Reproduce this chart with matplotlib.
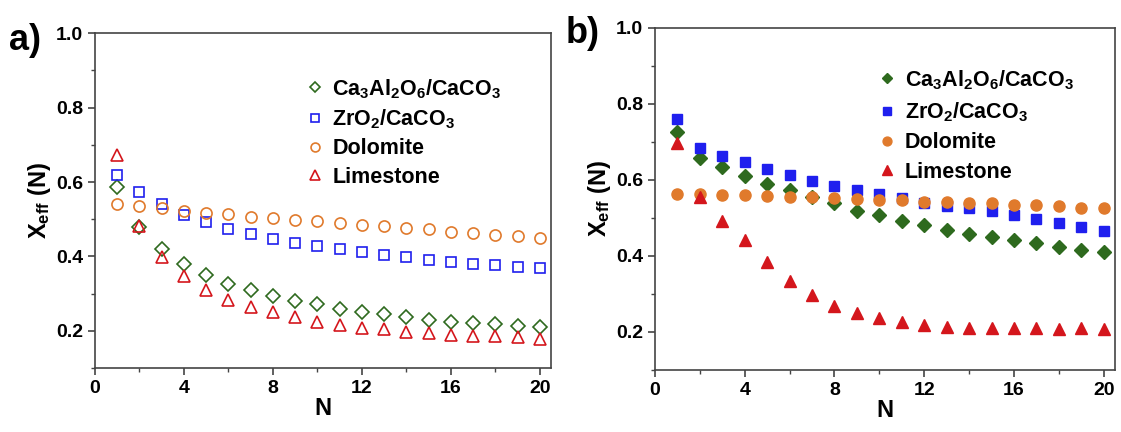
import numpy as np
import matplotlib
matplotlib.use('Agg')
import matplotlib.pyplot as plt
from matplotlib.ticker import MultipleLocator

plt.rcParams['font.family'] = ['Liberation Sans', 'DejaVu Sans']
plt.rcParams['font.weight'] = 'bold'
plt.rcParams['mathtext.fontset'] = 'custom'
plt.rcParams['mathtext.rm'] = 'Liberation Sans:bold'
plt.rcParams['mathtext.it'] = 'Liberation Sans:bold'
plt.rcParams['mathtext.bf'] = 'Liberation Sans:bold'

# cycle numbers
cycles = list(range(1, 21))

labels = [r'Ca$_3$Al$_2$O$_6$/CaCO$_3$', r'ZrO$_2$/CaCO$_3$', 'Dolomite', 'Limestone']

# panel a) values
a_ca3al2o6 = [0.587, 0.480, 0.420, 0.380, 0.349, 0.326, 0.309, 0.293, 0.280, 0.271,
              0.258, 0.252, 0.244, 0.236, 0.229, 0.224, 0.220, 0.218, 0.213, 0.210]
a_zro2 = [0.620, 0.573, 0.540, 0.511, 0.492, 0.474, 0.460, 0.447, 0.436, 0.427,
          0.420, 0.411, 0.404, 0.398, 0.391, 0.385, 0.380, 0.378, 0.373, 0.369]
a_dolomite = [0.540, 0.535, 0.529, 0.523, 0.518, 0.513, 0.507, 0.504, 0.499, 0.495,
              0.491, 0.485, 0.482, 0.476, 0.473, 0.467, 0.462, 0.458, 0.455, 0.449]
a_limestone = [0.672, 0.482, 0.398, 0.347, 0.311, 0.283, 0.265, 0.251, 0.236, 0.225,
               0.216, 0.207, 0.204, 0.198, 0.195, 0.190, 0.187, 0.185, 0.183, 0.179]

# panel b) values
b_ca3al2o6 = [0.727, 0.657, 0.634, 0.610, 0.590, 0.574, 0.554, 0.539, 0.518, 0.507,
              0.492, 0.481, 0.468, 0.459, 0.451, 0.441, 0.435, 0.424, 0.416, 0.411]
b_zro2 = [0.761, 0.685, 0.663, 0.646, 0.628, 0.613, 0.596, 0.584, 0.574, 0.562,
          0.552, 0.540, 0.532, 0.525, 0.517, 0.507, 0.496, 0.488, 0.477, 0.465]
b_dolomite = [0.564, 0.563, 0.561, 0.560, 0.559, 0.556, 0.554, 0.552, 0.549, 0.547,
              0.546, 0.543, 0.542, 0.539, 0.538, 0.535, 0.533, 0.531, 0.527, 0.525]
b_limestone = [0.698, 0.556, 0.492, 0.441, 0.385, 0.334, 0.296, 0.268, 0.251, 0.236,
               0.226, 0.218, 0.213, 0.210, 0.210, 0.210, 0.210, 0.207, 0.210, 0.209]

colors = ['#2e6a1e', '#1f1fee', '#e07a2c', '#d4161c']
markers = ['D', 's', 'o', '^']
sizes = [7, 7, 8, 9]


def style_axes(ax):
    ax.set_xlim(0, 20.5)
    ax.set_ylim(0.1, 1.0)
    ax.xaxis.set_major_locator(MultipleLocator(4))
    ax.xaxis.set_minor_locator(MultipleLocator(2))
    ax.yaxis.set_major_locator(MultipleLocator(0.2))
    ax.yaxis.set_minor_locator(MultipleLocator(0.1))
    ax.tick_params(which='both', direction='out', top=False, right=False, colors='#444444',
                   labelcolor='black', labelsize=14)
    ax.tick_params(which='major', length=5, width=1.2)
    ax.tick_params(which='minor', length=3, width=1.0)
    for s in ax.spines.values():
        s.set_color('#444444')
        s.set_linewidth(1.2)
    for lab in ax.get_xticklabels() + ax.get_yticklabels():
        lab.set_fontweight('bold')
    ax.set_xlabel('N', fontsize=17, fontweight='bold', labelpad=0)
    ax.set_ylabel(r'X$_{\mathregular{eff}}$ (N)', fontsize=17, fontweight='bold', labelpad=2)


fig = plt.figure(figsize=(11.21, 4.32), dpi=100)
ax1 = fig.add_axes([0.0847, 0.148, 0.4068, 0.775])
ax2 = fig.add_axes([0.5843, 0.1435, 0.4103, 0.792])

data_a = [a_ca3al2o6, a_zro2, a_dolomite, a_limestone]
for vals, c, m, s, lab in zip(data_a, colors, markers, sizes, labels):
    ax1.plot(cycles, vals, linestyle='none', marker=m, markersize=s, markerfacecolor='none',
             markeredgecolor=c, markeredgewidth=1.2, label=lab)

data_b = [b_ca3al2o6, b_zro2, b_dolomite, b_limestone]
for vals, c, m, s, lab in zip(data_b, colors, markers, sizes, labels):
    ax2.plot(cycles, vals, linestyle='none', marker=m, markersize=s, color=c, label=lab)

for ax in (ax1, ax2):
    style_axes(ax)

ax1.legend(loc='upper left', bbox_to_anchor=(0.44, 0.895), frameon=False, fontsize=15.5,
           handletextpad=0.3, labelspacing=0.33, handlelength=1.0, borderaxespad=0,
           markerscale=0.8)
ax2.legend(loc='upper left', bbox_to_anchor=(0.463, 0.908), frameon=False, fontsize=15.5,
           handletextpad=0.3, labelspacing=0.4, handlelength=1.0, borderaxespad=0,
           markerscale=0.8)

fig.text(0.008, 0.885, 'a)', fontsize=26, fontweight='bold')
fig.text(0.505, 0.9, 'b)', fontsize=26, fontweight='bold')

fig.savefig('out.png', dpi=100)
